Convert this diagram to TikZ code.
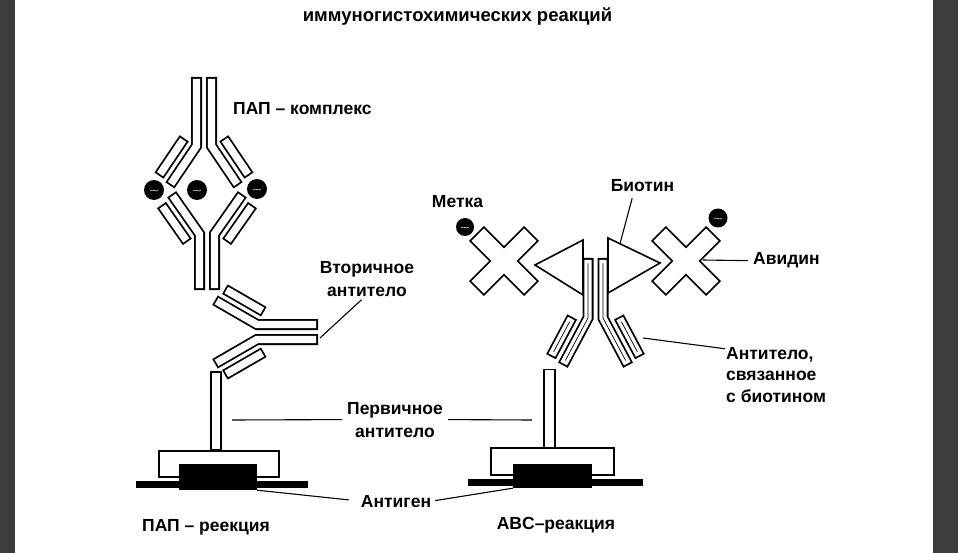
\documentclass[tikz,border=0pt]{standalone}
\usepackage{fontspec}
\setmainfont{Liberation Sans}
\usepackage{tikz}
\usetikzlibrary{calc}
\definecolor{frame}{HTML}{3C3C3C}
\tikzstyle{chain} = [line width=1.8pt, double=white, double distance=7.4pt, line cap=rect, line join=miter]
\tikzstyle{inner} = [line width=0.7pt, line join=miter]
\tikzstyle{box} = [draw, line width=1.8pt, fill=white, inner sep=0pt]
\tikzstyle{antigen} = [fill=black, inner sep=0pt]
\tikzstyle{slide} = [fill=black, inner sep=0pt]
\tikzstyle{biotin} = [line width=1.6pt, fill=white, line join=miter]
\tikzstyle{pdot} = [circle, fill=black, inner sep=0pt, path picture={\draw[white, line width=0.5pt] ($(path picture bounding box.center)+(-4,1)$) .. controls +(2,-3) and +(-2,3) .. +(8,-1);}]
\tikzstyle{txt} = [font=\bfseries\fontsize{17.5}{23}\selectfont, inner sep=1pt, anchor=base]
\tikzstyle{pointer} = [line width=1.1pt]
\newcommand{\antibody}[7]{%
    \foreach \st in {#7}{
        \draw[\st] ($#1+(#2+90:7.5)+(#2:#3)$) -- ($#1+(#2+90:7.5)$) -- ++(#2+180-#4:#5);
        \draw[\st] ($#1+(#2-90:7.5)+(#2:#3)$) -- ($#1+(#2-90:7.5)$) -- ++(#2+180+#4:#5);
        \draw[\st] ($#1+(#2+90:7.5)+(#2+180-#4:#6)+(#2+90-#4:14.5)$) -- ++(#2+180-#4:34);
        \draw[\st] ($#1+(#2-90:7.5)+(#2+180+#4:#6)+(#2-90+#4:14.5)$) -- ++(#2+180+#4:34);
    }}

\begin{document}
\begin{tikzpicture}[x=1pt,y=-1pt]
    \useasboundingbox (0,0) rectangle (958,553);
    \fill[frame] (0,0) rectangle (15,553);
    \fill[frame] (933,0) rectangle (958,553);
    \node[txt, font=\bfseries\fontsize{18.5}{22}\selectfont] (title) at (457.5,22) {иммуногистохимических реакций};

    \antibody{(204,146)}{270}{63.5}{34}{42}{6}{chain}
    \antibody{(207,234)}{90}{50.5}{35}{43}{6}{chain}
    \foreach \n/\x/\y in {p1/154/190, p2/197/190, p3/257/189}
        \node[pdot, minimum size=20] (\n) at (\x,\y) {};
    \antibody{(257,332)}{0}{55.5}{30}{43}{6}{chain}

    \node[slide, minimum width=172, minimum height=7] (baseL) at (222,484.5) {};
    \node[box, minimum width=10.2, minimum height=78] (abL) at (216,411) {};
    \node[box, minimum width=120.2, minimum height=26] (tisL) at (219,464) {};
    \node[antigen, minimum width=78, minimum height=26] (agL) at (218,477) {};

    \node[slide, minimum width=175, minimum height=7] (baseR) at (555.5,482.5) {};
    \node[box, minimum width=11, minimum height=78] (abR) at (549.5,408.5) {};
    \node[box, minimum width=123, minimum height=27] (tisR) at (552.5,461.5) {};
    \node[antigen, minimum width=79, minimum height=24] (agR) at (552.5,476) {};

    \coordinate (avL) at (504,261);
    \coordinate (avR) at (686,261);
    \foreach \w/\c in {21/black, 17.4/white}
        \draw[draw=\c, line width=\w, line cap=rect] (avL) +(45:28.5) -- +(225:28.5) (avL) +(135:28.5) -- +(315:28.5) (avR) +(45:28.5) -- +(225:28.5) (avR) +(135:28.5) -- +(315:28.5);
    \coordinate (tL1) at (583,240);
    \coordinate (tL2) at (583,295);
    \coordinate (tL3) at (535,265);
    \coordinate (tR1) at (608,238);
    \coordinate (tR2) at (608,293);
    \coordinate (tR3) at (660,263);
    \draw[biotin] (tL1) -- (tL3) -- (tL2) -- cycle;
    \draw[biotin] (tR1) -- (tR3) -- (tR2) -- cycle;
    \antibody{(595.5,318)}{270}{54.5}{28}{48}{12}{chain,inner}
    \node[pdot, minimum size=18] (mL) at (465,227) {};
    \node[pdot, minimum size=19] (mR) at (718,218) {};

    \node[txt, anchor=base west] (papc) at (232,115) {ПАП – комплекс};
    \node[txt, align=center] (sec) at (367,297) {Вторичное\\антитело};
    \node[txt, align=center] (prim) at (395,437) {Первичное\\антитело};
    \node[txt] (antg) at (396,507) {Антиген};
    \node[txt] (papr) at (206,531) {ПАП – реекция};
    \node[txt] (abcr) at (556,529) {ABC–реакция};
    \node[txt] (metka) at (457.5,208) {Метка};
    \node[txt] (biot) at (642.5,192) {Биотин};
    \node[txt, anchor=base west] (avid) at (752,265) {Авидин};
    \node[txt, anchor=base west, align=left, font=\bfseries\fontsize{17.5}{21.5}\selectfont] (abl) at (725,402) {Антитело,\\связанное\\с биотином};

    \coordinate (secTip) at (320,338);
    \coordinate (primL) at (232,420);
    \coordinate (primR) at (532,420);
    \coordinate (avN) at (703,260);
    \coordinate (lcR) at (643,338);
    \draw[pointer, shorten <=2pt] ([xshift=-4pt]sec.south) -- (secTip);
    \draw[pointer, shorten <=4pt] (prim.west) -- (primL);
    \draw[pointer, shorten <=4pt] (prim.east) -- (primR);
    \draw[pointer, shorten <=11pt] (antg.west) -- (agL.south east);
    \draw[pointer, shorten <=3pt] (antg.east) -- (agR.south west);
    \draw[pointer, shorten <=5pt] ([xshift=-9pt]biot.south) -- ($(tR1)!0.23!(tR3)$);
    \draw[pointer, shorten <=4pt] (avid.west) -- (avN);
    \draw[pointer] ([yshift=-3pt]abl.north west) -- (lcR);
\end{tikzpicture}
\end{document}
